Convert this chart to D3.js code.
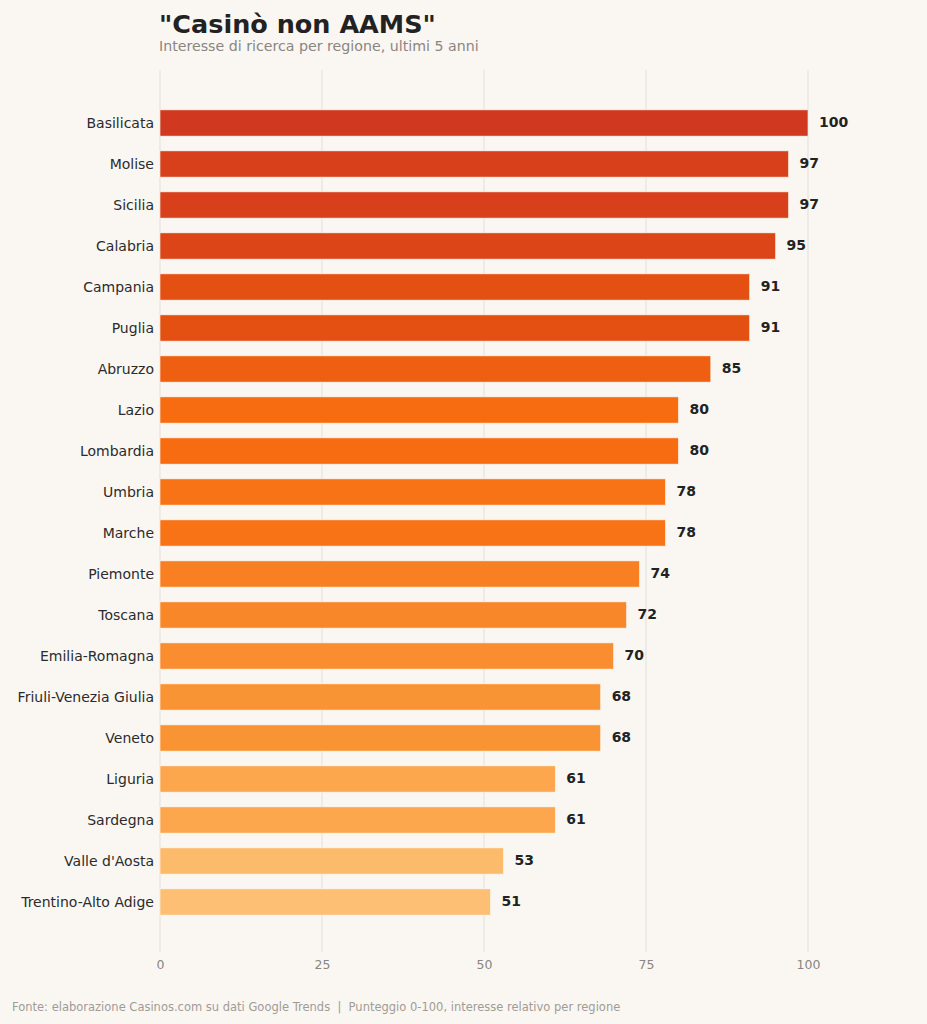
<!DOCTYPE html>
<html>
<head>
<meta charset="utf-8">
<script src="https://cdn.jsdelivr.net/npm/d3@7"></script>
<style>
  body { margin: 0; background: #faf7f3; }
</style>
</head>
<body>
<div id="chart-container"></div>
<script>
// Dati: interesse di ricerca per regione (0-100)
const regions = [
    "Basilicata", "Molise", "Sicilia", "Calabria", "Campania", "Puglia",
    "Abruzzo", "Lazio", "Lombardia", "Umbria", "Marche", "Piemonte",
    "Toscana", "Emilia-Romagna", "Friuli-Venezia Giulia", "Veneto",
    "Liguria", "Sardegna", "Valle d'Aosta", "Trentino-Alto Adige"
];
const scores = [100, 97, 97, 95, 91, 91, 85, 80, 80, 78, 78, 74, 72, 70, 68, 68, 61, 61, 53, 51];
const xTicks = [0, 25, 50, 75, 100];

const titleText = "\"Casinò non AAMS\"";
const subtitleText = "Interesse di ricerca per regione, ultimi 5 anni";
const footerText = "Fonte: elaborazione Casinos.com su dati Google Trends  |  Punteggio 0-100, interesse relativo per regione";

const data = regions.map((region, i) => ({ region, score: scores[i] }));

// Cài đặt SVG
const width = 927;
const height = 1024;
const font = "'DejaVu Sans', sans-serif";

const svg = d3.select("#chart-container")
    .append("svg")
    .attr("width", width)
    .attr("height", height)
    .style("font-family", font)
    .style("background", "#faf7f3");

// Thang đo
const xScale = d3.scaleLinear()
    .domain([0, 100])
    .range([160, 808]);

const yScale = d3.scaleBand()
    .domain(regions)
    .range([102.5, 922.5])
    .paddingInner(0.36)
    .paddingOuter(0.18);

// Màu theo giá trị
const colorScale = d3.scaleLinear()
    .domain([51, 61, 68, 80, 91, 100])
    .range(["#fcbf73", "#fca74d", "#f99435", "#f76c10", "#e44f12", "#d0391f"])
    .interpolate(d3.interpolateRgb);

// Lưới dọc
svg.append("g")
    .selectAll("line")
    .data(xTicks)
    .join("line")
    .attr("x1", d => xScale(d))
    .attr("x2", d => xScale(d))
    .attr("y1", 70)
    .attr("y2", 952)
    .attr("stroke", "#e3dfda")
    .attr("stroke-width", 1);

// Trục x
const xAxis = svg.append("g")
    .attr("transform", "translate(0, 952)")
    .call(d3.axisBottom(xScale).tickValues(xTicks).tickSize(0).tickPadding(8));
xAxis.select(".domain").remove();
xAxis.selectAll("text")
    .style("font-family", font)
    .style("font-size", "12.5px")
    .style("fill", "#8a8580");

// Vẽ cột
svg.append("g")
    .selectAll("rect")
    .data(data)
    .join("rect")
    .attr("x", xScale(0))
    .attr("y", d => yScale(d.region))
    .attr("width", d => xScale(d.score) - xScale(0))
    .attr("height", yScale.bandwidth())
    .attr("fill", d => colorScale(d.score))
    .attr("stroke", "#faf7f3")
    .attr("stroke-width", 0.6);

// Nhãn vùng
svg.append("g")
    .selectAll("text")
    .data(data)
    .join("text")
    .attr("x", xScale(0) - 6)
    .attr("y", d => yScale(d.region) + yScale.bandwidth() / 2)
    .attr("dy", "0.35em")
    .attr("text-anchor", "end")
    .style("font-size", "14px")
    .style("fill", "#2b2b2b")
    .text(d => d.region);

// Nhãn giá trị
svg.append("g")
    .selectAll("text")
    .data(data)
    .join("text")
    .attr("x", d => xScale(d.score) + 11)
    .attr("y", d => yScale(d.region) + yScale.bandwidth() / 2 - 1)
    .attr("dy", "0.35em")
    .attr("text-anchor", "start")
    .style("font-size", "14px")
    .style("font-weight", "bold")
    .style("fill", "#222")
    .text(d => d.score);

// Tiêu đề
svg.append("text")
    .attr("x", 159)
    .attr("y", 33)
    .style("font-size", "25.5px")
    .style("font-weight", "bold")
    .style("fill", "#222")
    .text(titleText);

svg.append("text")
    .attr("x", 159)
    .attr("y", 51)
    .style("font-size", "14.2px")
    .style("fill", "#8a8580")
    .text(subtitleText);

// Chú thích nguồn
svg.append("text")
    .attr("x", 12)
    .attr("y", 1011)
    .style("font-size", "11.5px")
    .style("fill", "#a09b96")
    .attr("xml:space", "preserve")
    .style("white-space", "pre")
    .text(footerText);
</script>
</body>
</html>
